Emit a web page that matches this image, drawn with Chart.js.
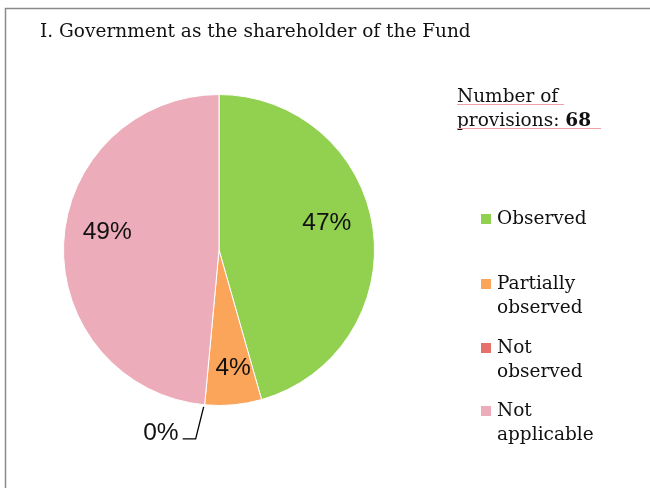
<!DOCTYPE html>
<html><head><meta charset="utf-8">
<script src="https://cdn.jsdelivr.net/npm/chart.js@4"></script>
<style>html,body{margin:0;padding:0;background:#fff;}#wrap{width:650px;height:488px;position:relative;}</style>
</head><body><div id="wrap"><canvas id="c" width="650" height="488"></canvas></div>
<script>
const title = "I. Government as the shareholder of the Fund";
const categories = ["Observed", "Partially observed", "Not observed", "Not applicable"];
const legendLines = [["Observed"], ["Partially", "observed"], ["Not", "observed"], ["Not", "applicable"]];
// slice sizes
const counts = [31, 4, 0, 33];
// label texts as printed on the chart
const percentLabels = ["47%", "4%", "0%", "49%"];
const totalProvisions = 68;
const colors = ["#92D050", "#FBA55A", "#E5706C", "#EDACB9"];

// label nudges (style, not data)
const labelNudge = [[0, -11.5], [3, -3], [0, 0], [-3, -13]];

const serif = "Georgia, 'DejaVu Serif', 'Liberation Serif', serif";
const sans = "'Liberation Sans', Arial, sans-serif";

const deco = {
  id: 'deco',
  beforeDraw(chart) {
    const ctx = chart.ctx;
    ctx.save();
    ctx.fillStyle = '#fff';
    ctx.fillRect(0, 0, chart.width, chart.height);
    ctx.strokeStyle = '#8a8a8a';
    ctx.lineWidth = 1.5;
    ctx.strokeRect(5.5, 8.5, 800, 700);
    ctx.restore();
  },
  afterDraw(chart) {
    const ctx = chart.ctx;
    ctx.save();
    ctx.fillStyle = '#111';
    ctx.font = "18.5px " + serif;
    ctx.textBaseline = 'alphabetic';
    ctx.textAlign = 'left';
    ctx.fillText(title, 40, 37);
    ctx.fillText("Number of", 457, 102);
    ctx.fillText("provisions: ", 457, 126);
    const w1 = ctx.measureText("provisions: ").width;
    ctx.font = "bold 18.5px " + serif;
    ctx.fillText(String(totalProvisions), 457 + w1, 126);
    ctx.strokeStyle = '#f0a0a8';
    ctx.lineWidth = 1;
    ctx.beginPath();
    ctx.moveTo(457, 104.5); ctx.lineTo(564, 104.5);
    ctx.moveTo(457, 128.5); ctx.lineTo(601, 128.5);
    ctx.stroke();
    const starts = [219, 284, 348, 411];
    legendLines.forEach((lines, i) => {
      const y = starts[i];
      ctx.fillStyle = colors[i];
      ctx.fillRect(481, y - 5, 10, 10);
      ctx.fillStyle = '#111';
      ctx.font = "18.5px " + serif;
      ctx.textBaseline = 'middle';
      lines.forEach((t, j) => ctx.fillText(t, 497, y + j * 24));
    });
    const meta = chart.getDatasetMeta(0);
    ctx.font = "24.5px " + sans;
    ctx.textAlign = 'center';
    ctx.textBaseline = 'middle';
    ctx.fillStyle = '#111';
    meta.data.forEach((arc, i) => {
      const p = arc.getProps(['x', 'y', 'startAngle', 'endAngle', 'outerRadius'], true);
      const mid = (p.startAngle + p.endAngle) / 2;
      if (counts[i] === 0) {
        const ex = p.x + Math.cos(mid) * p.outerRadius;
        const ey = p.y + Math.sin(mid) * p.outerRadius;
        ctx.strokeStyle = '#000';
        ctx.lineWidth = 1.3;
        ctx.beginPath();
        ctx.moveTo(ex - 1, ey + 2);
        ctx.lineTo(ex - 9, ey + 34);
        ctx.lineTo(ex - 22, ey + 34);
        ctx.stroke();
        ctx.textAlign = 'right';
        ctx.fillText(percentLabels[i], ex - 26, ey + 28);
        ctx.textAlign = 'center';
        return;
      }
      const rf = counts[i] < 5 ? 0.78 : 0.7;
      const lx = p.x + Math.cos(mid) * p.outerRadius * rf + labelNudge[i][0];
      const ly = p.y + Math.sin(mid) * p.outerRadius * rf + labelNudge[i][1];
      ctx.fillText(percentLabels[i], lx, ly);
    });
    ctx.restore();
  }
};

new Chart(document.getElementById('c'), {
  type: 'pie',
  data: {
    labels: categories,
    datasets: [{
      data: counts,
      backgroundColor: colors,
      borderColor: '#ffffff',
      borderWidth: [1, 1, 0, 1]
    }]
  },
  options: {
    responsive: false,
    animation: false,
    layout: { padding: { left: 63, right: 275, top: 94, bottom: 82 } },
    plugins: { legend: { display: false }, tooltip: { enabled: false }, title: { display: false } }
  },
  plugins: [deco]
});
</script></body></html>
